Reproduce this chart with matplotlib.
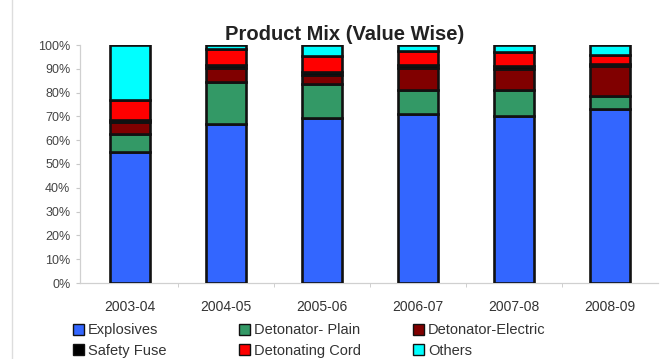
import matplotlib
matplotlib.use("Agg")
import matplotlib.pyplot as plt
from matplotlib.patches import Patch
from matplotlib.ticker import FixedLocator, FuncFormatter
import numpy as np

plt.rcParams['font.family'] = ['Liberation Sans', 'DejaVu Sans']

years = ["2003-04", "2004-05", "2005-06", "2006-07", "2007-08", "2008-09"]

# share of value in %, bottom to top
explosives = [55, 67, 69.5, 71, 70, 73]
det_plain = [7.5, 17.5, 14, 10, 11, 5.5]
det_electric = [5, 6, 4, 9.5, 9, 12.5]
safety_fuse = [1, 1, 1, 1, 1, 1]
det_cord = [8.5, 7, 7, 6, 6, 4]
others = [23, 1.5, 4.5, 2.5, 3, 4]

series_names = ["Explosives", "Detonator- Plain", "Detonator-Electric",
                "Safety Fuse", "Detonating Cord", "Others"]
series_vals = [explosives, det_plain, det_electric, safety_fuse, det_cord, others]
colors = ["#3366ff", "#339966", "#800000", "#000000", "#ff0000", "#00ffff"]

fig = plt.figure(figsize=(6.72, 3.59), dpi=100)
ax = fig.add_axes([80 / 672, 1 - 283 / 359, 578 / 672, 238 / 359])

x = np.arange(len(years))
bottom = np.zeros(len(years))
for name, vals, c in zip(series_names, series_vals, colors):
    ax.bar(x, vals, width=0.41, bottom=bottom, color=c, edgecolor="#111111",
           linewidth=1.9, label=name, zorder=3)
    bottom += np.array(vals)

ax.set_xlim(-0.52, 5.5)
ax.set_ylim(0, 100)
ax.yaxis.set_major_locator(FixedLocator(np.arange(0, 101, 10)))
ax.yaxis.set_major_formatter(FuncFormatter(lambda v, p: f"{v:.0f}%"))
ax.set_xticks(x)
ax.set_xticklabels(years)
ax.xaxis.set_minor_locator(FixedLocator(np.arange(0.5, 5.5, 1)))
ax.tick_params(axis='x', which='major', length=0, pad=12, labelsize=10, labelcolor="#333333")
ax.tick_params(axis='x', which='minor', length=3, color="#c8c8c8")
ax.tick_params(axis='y', length=3, color="#c8c8c8", labelsize=9, labelcolor="#444444", pad=4)

for s in ["top", "right"]:
    ax.spines[s].set_visible(False)
for s in ["left", "bottom"]:
    ax.spines[s].set_color("#d0d0d0")
    ax.spines[s].set_linewidth(0.9)

fig.text(345 / 672, 1 - 40 / 359, "Product Mix (Value Wise)", ha="center",
         va="baseline", fontsize=14.5, fontweight="bold", color="#222222")

# legend laid out in three columns, row-wise
col_x = [66 / 672, 232 / 672, 406 / 672]
for i in range(3):
    handles = []
    for j in (i, i + 3):
        handles.append(Patch(facecolor=colors[j], edgecolor="#111111",
                             linewidth=1.0, label=series_names[j]))
    fig.legend(handles=handles, loc="upper left",
               bbox_to_anchor=(col_x[i], 1 - 316 / 359), frameon=False,
               fontsize=10.5, handlelength=0.75, handleheight=0.75,
               handletextpad=0.25, labelspacing=0.45, borderpad=0,
               labelcolor="#333333")

# faint frame line at the left edge
fig.add_artist(plt.Line2D([12 / 672, 12 / 672], [0, 1], color="#dddddd", lw=1))

fig.savefig("out.png", dpi=100)
